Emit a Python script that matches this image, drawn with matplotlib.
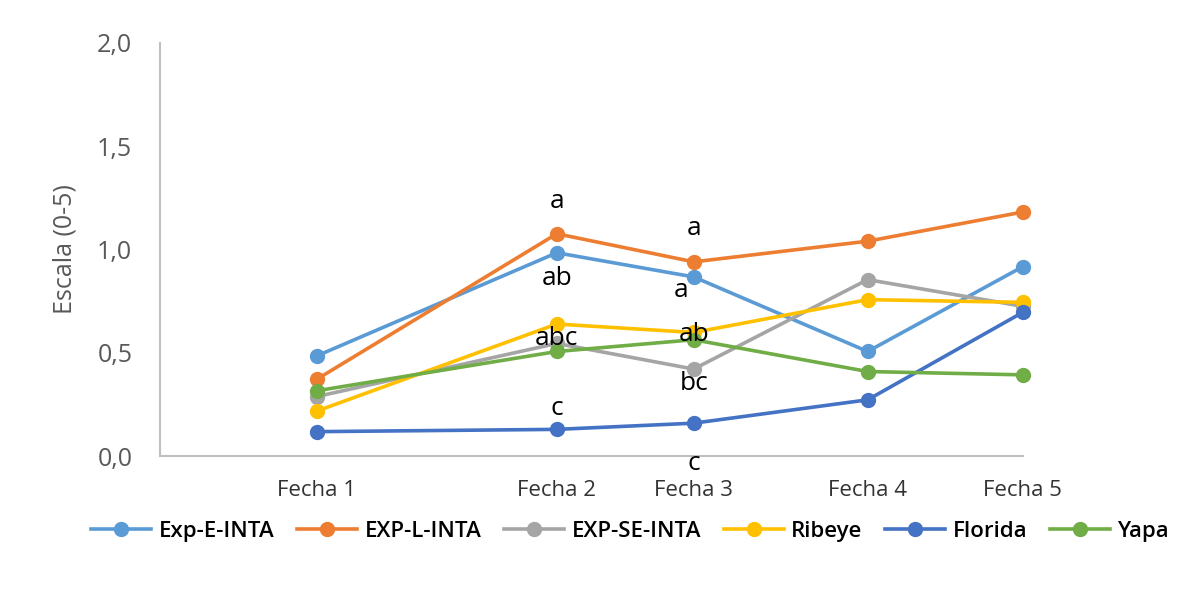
import matplotlib.pyplot as plt

plt.rcParams['font.family'] = ['Open Sans', 'DejaVu Sans']

fechas = ['Fecha 1', 'Fecha 2', 'Fecha 3', 'Fecha 4', 'Fecha 5']
x = [157, 397, 534, 708, 863]  # uneven spacing between dates

exp_e = [0.485, 0.984, 0.867, 0.506, 0.916]
exp_l = [0.372, 1.076, 0.940, 1.040, 1.181]
exp_se = [0.288, 0.545, 0.421, 0.854, 0.725]
ribeye = [0.218, 0.639, 0.598, 0.757, 0.744]
florida = [0.118, 0.129, 0.159, 0.272, 0.695]
yapa = [0.316, 0.506, 0.563, 0.409, 0.393]

series = [
    ('Exp-E-INTA', exp_e, '#5B9BD5'),
    ('EXP-L-INTA', exp_l, '#ED7D31'),
    ('EXP-SE-INTA', exp_se, '#A5A5A5'),
    ('Ribeye', ribeye, '#FFC000'),
    ('Florida', florida, '#4472C4'),
    ('Yapa', yapa, '#70AD47'),
]

# significance letters: (fecha index, y, text)
letras = [
    (1, 1.23, 'a'), (1, 0.86, 'ab'), (1, 0.57, 'abc'), (1, 0.23, 'c'),
    (2, 1.10, 'a'), (2, 0.80, 'a'), (2, 0.59, 'ab'), (2, 0.35, 'bc'), (2, -0.035, 'c'),
]
dx_letras = {(2, 0.80): -13}

fig = plt.figure(figsize=(11.89, 5.91), dpi=100)
ax = fig.add_axes([0.1346, 0.2284, 0.7254, 0.699])

for name, vals, col in series:
    ax.plot(x, vals, '-o', color=col, lw=2.6, ms=10, label=name, clip_on=False)

for i, yv, t in letras:
    xx = x[i] + dx_letras.get((i, yv), 0)
    ax.text(xx, yv, t, ha='center', va='center', fontsize=19, color='black')

ax.set_xlim(0, 863)
ax.set_ylim(0, 2.0)
ax.set_yticks([0, 0.5, 1.0, 1.5, 2.0])
ax.set_yticklabels(['0,0', '0,5', '1,0', '1,5', '2,0'], fontsize=18, color='#595959')
ax.set_xticks(x)
ax.set_xticklabels(fechas, fontsize=16, color='#333333')
ax.tick_params(axis='x', length=0, pad=17)
ax.tick_params(axis='y', length=0, pad=20)
for s in ['top', 'right']:
    ax.spines[s].set_visible(False)
for s in ['left', 'bottom']:
    ax.spines[s].set_color('#BFBFBF')
    ax.spines[s].set_linewidth(1.5)
ax.set_ylabel('Escala (0-5)', fontsize=18, color='#595959', labelpad=14)

fig.legend(loc='center', bbox_to_anchor=(0.53, 0.1015), ncol=6, frameon=False,
           handlelength=2.7, columnspacing=1.0, handletextpad=0.35,
           prop={'weight': 'semibold', 'size': 16})

fig.savefig('out.png', dpi=100)
